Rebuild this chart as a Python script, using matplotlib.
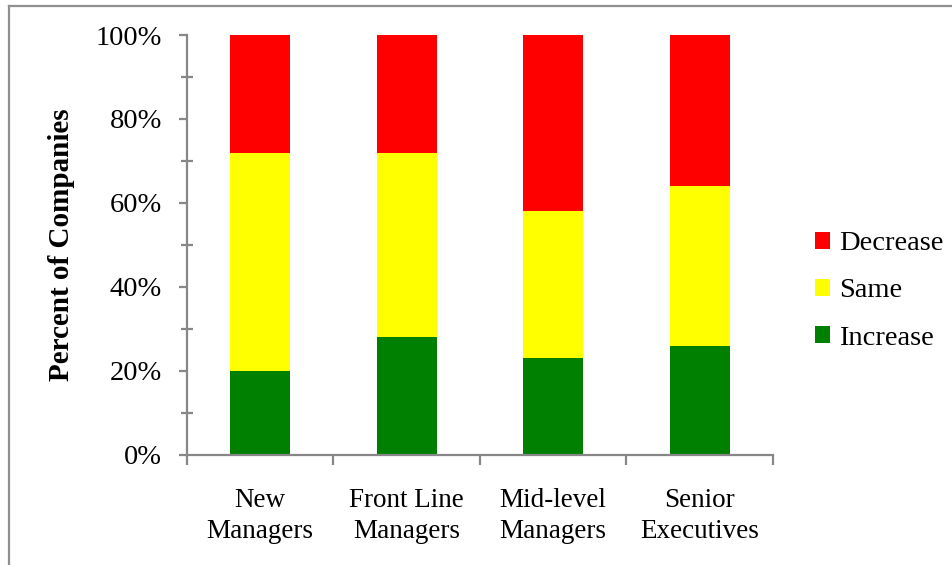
import matplotlib
matplotlib.use('Agg')
import matplotlib.pyplot as plt
from matplotlib.lines import Line2D
from matplotlib.ticker import MultipleLocator, FixedLocator, NullFormatter

# values (percent of companies)
categories = ['New\nManagers', 'Front Line\nManagers', 'Mid-level\nManagers', 'Senior\nExecutives']
increase = [20, 28, 23, 26]
same = [52, 44, 35, 38]
decrease = [28, 28, 42, 36]

plt.rcParams['font.family'] = ['Liberation Serif', 'DejaVu Serif']

axis_gray = '#878787'

fig = plt.figure(figsize=(9.53, 5.65), dpi=100)
ax = fig.add_axes([0.196, 0.195, 0.615, 0.743])

x = list(range(len(categories)))
width = 0.41
bottom_same = [a for a in increase]
bottom_dec = [a + b for a, b in zip(increase, same)]

ax.bar(x, increase, width, color='#008000', label='Increase')
ax.bar(x, same, width, bottom=bottom_same, color='#FFFF00', label='Same')
ax.bar(x, decrease, width, bottom=bottom_dec, color='#FF0000', label='Decrease')

ax.set_xlim(-0.5, len(categories) - 0.5)
ax.set_ylim(0, 100)

for side in ['top', 'right']:
    ax.spines[side].set_visible(False)
for side in ['left', 'bottom']:
    ax.spines[side].set_color(axis_gray)
    ax.spines[side].set_linewidth(1.6)

ax.set_yticks(range(0, 101, 20))
ax.set_yticklabels(['{}%'.format(v) for v in range(0, 101, 20)])
ax.yaxis.set_minor_locator(MultipleLocator(10))
ax.tick_params(axis='y', which='major', direction='out', length=6, width=1.6,
               color=axis_gray, labelsize=20.5, pad=12)
ax.tick_params(axis='y', which='minor', direction='inout', length=9, width=1.6,
               color=axis_gray)

ax.set_xticks(x)
ax.set_xticklabels(categories)
ax.xaxis.set_minor_locator(FixedLocator([i - 0.5 for i in range(len(categories) + 1)]))
ax.xaxis.set_minor_formatter(NullFormatter())
ax.tick_params(axis='x', which='major', length=0, labelsize=19.5, pad=24)
ax.tick_params(axis='x', which='minor', direction='out', length=7, width=1.6,
               color=axis_gray)
for lbl in ax.get_xticklabels():
    lbl.set_linespacing(1.3)

ax.set_ylabel('Percent of Companies', fontsize=21, fontweight='bold')
ax.yaxis.set_label_coords(-0.19, 0.5)

handles, labels = ax.get_legend_handles_labels()
fig.legend(handles[::-1], labels[::-1], loc='center left',
           bbox_to_anchor=(0.843, 0.485), frameon=False, fontsize=20.5,
           handlelength=0.55, handleheight=0.55, handletextpad=0.3,
           labelspacing=0.78, borderaxespad=0)

# gray frame visible at the top and left edges of the crop
fig.add_artist(Line2D([9 / 953, 9 / 953], [0, 1 - 6 / 565], transform=fig.transFigure,
                      color='#909090', linewidth=1.6))
fig.add_artist(Line2D([9 / 953, 1], [1 - 6 / 565, 1 - 6 / 565], transform=fig.transFigure,
                      color='#909090', linewidth=1.6))

fig.savefig('out.png', dpi=100)
